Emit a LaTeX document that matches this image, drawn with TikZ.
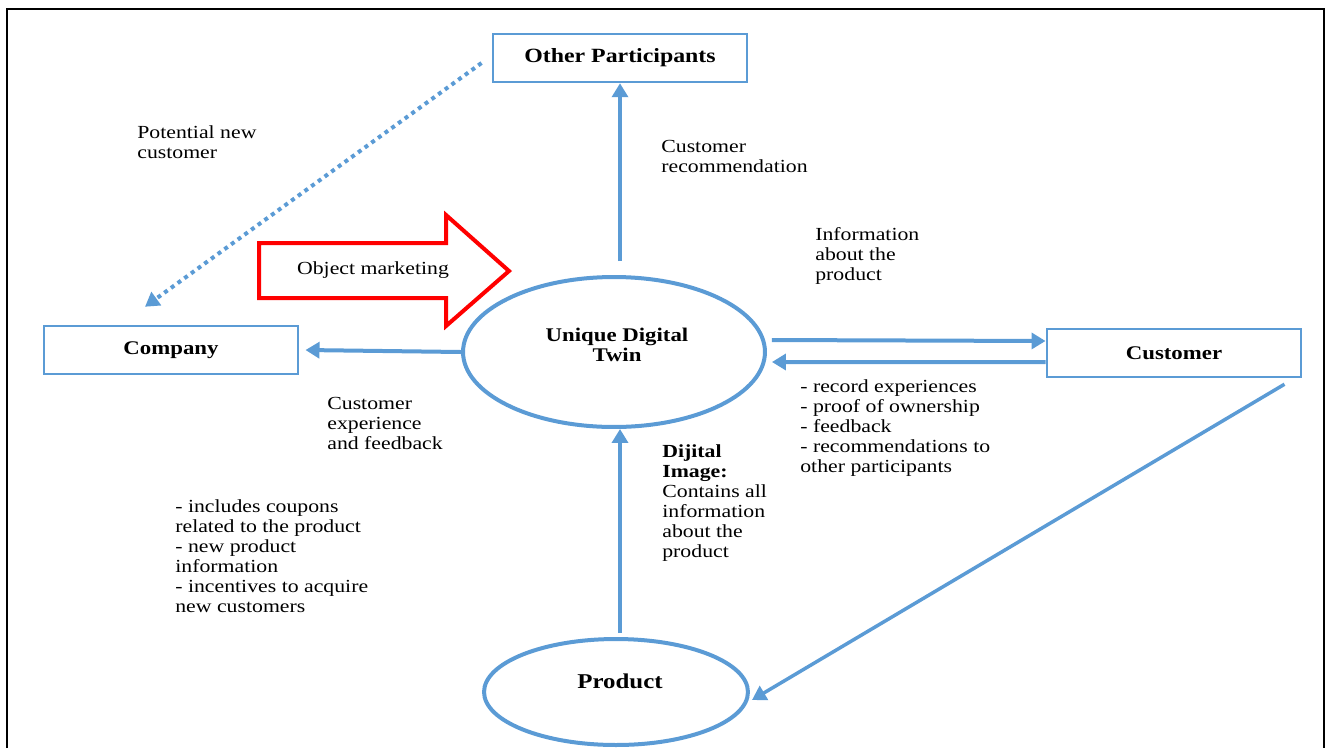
\documentclass[tikz,border=0pt]{standalone}
\usepackage{fontspec}
\setmainfont{Liberation Serif}[FakeStretch=1.18]
\usepackage{tikz}
\usetikzlibrary{arrows.meta,shapes.geometric,positioning,calc}
\definecolor{twinblue}{HTML}{5B9BD5}

\begin{document}
\begin{tikzpicture}[
    x=0.02cm, y=-0.02cm,
    box/.style={rectangle, draw=twinblue, line width=0.04cm, minimum width=5.1cm, minimum height=0.97cm, font=\fontsize{11}{13}\selectfont\bfseries},
    oval/.style={ellipse, draw=twinblue, line width=0.08cm, inner sep=0pt},
    title/.style={align=center, font=\fontsize{11}{11.4}\selectfont\bfseries},
    note/.style={anchor=north west, inner sep=0pt, align=left, font=\fontsize{10.5}{11.4}\selectfont},
    arrow/.style={-{Triangle[length=0.28cm,width=0.32cm]}, draw=twinblue, line width=0.08cm}
]
    \useasboundingbox (0,0) rectangle (1325,748);
    % frame
    \draw[line width=0.03cm] (7,748) -- (7,9) -- (1324,9) -- (1324,748);

    % main nodes
    \node[box, font=\fontsize{11.5}{13}\selectfont\bfseries] (other) at (620,58) {Other Participants};
    \node[box] (company) at (171,350) {Company};
    \node[box] (customer) at (1174,353) {Customer};
    \node[oval, minimum width=6.04cm, minimum height=3cm] (twin) at (614,352) {};
    \node[title] (twinlabel) at (617,345) {Unique Digital\\Twin};
    \node[oval, minimum width=5.28cm, minimum height=2.12cm] (product) at (616,692) {};
    \node[title, font=\fontsize{12}{13}\selectfont\bfseries] (productlabel) at (620,681) {Product};

    % object marketing arrow
    \draw[red, line width=0.08cm] (259,243) -- (446,243) -- (446,215) -- (509,271) -- (446,326) -- (446,298) -- (259,298) -- cycle;
    \node[font=\fontsize{10.5}{11.4}\selectfont] (marketing) at (373,270) {Object marketing};

    % connectors
    \draw[arrow] ($(twin.north -| other.south)+(0,-14)$) -- (other.south);
    \draw[arrow] ($(product.north -| other.south)+(0,-4)$) -- (twin.south -| other.south);
    \draw[arrow] (twin.west) -- ([xshift=0.12cm]company.east);
    \draw[arrow] ([shift={(0.1cm,0.24cm)}]twin.east) -- ([yshift=0.24cm]customer.west);
    \draw[arrow] ([yshift=-0.18cm]customer.west) -- ([shift={(0.1cm,-0.2cm)}]twin.east);
    \draw[arrow, dash pattern=on 0.08cm off 0.085cm] ([shift={(-0.2cm,-0.1cm)}]other.west) -- ([shift={(-0.52cm,0.36cm)}]company.north);
    \draw[arrow, line width=0.07cm] ([shift={(-0.36cm,-0.12cm)}]customer.south east) -- ([shift={(0.04cm,-0.16cm)}]product.east);

    % labels
    \node[note] (potential) at (137,125) {Potential new\\customer};
    \node[note] (recommend) at (661,140) {Customer\\recommendation};
    \node[note] (info) at (815,227) {Information\\about the\\product};
    \node[note] (feedback) at (327,397) {Customer\\experience\\and feedback};
    \node[note] (record) at (800,379) {- record experiences\\- proof of ownership\\- feedback\\- recommendations to\\other participants};
    \node[note] (image) at (662,444) {\textbf{Dijital}\\\textbf{Image:}\\Contains all\\information\\about the\\product};
    \node[note] (coupons) at (175,499) {- includes coupons\\related to the product\\- new product\\information\\- incentives to acquire\\new customers};
\end{tikzpicture}
\end{document}
